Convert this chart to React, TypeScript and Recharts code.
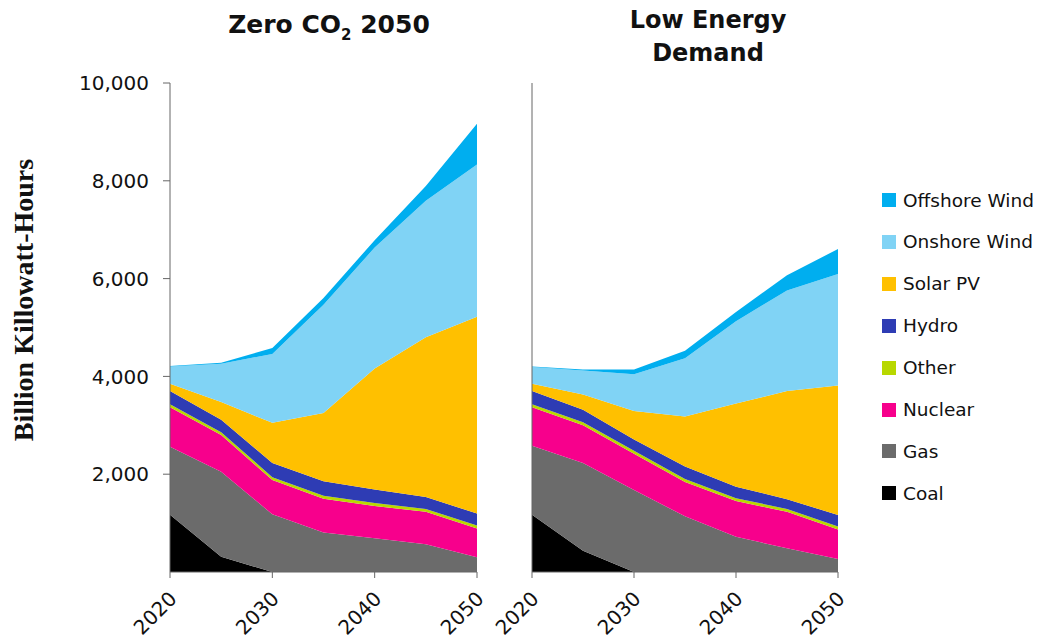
import React from 'react';
import { AreaChart, Area, XAxis, YAxis } from 'recharts';

const years = [2020, 2025, 2030, 2035, 2040, 2045, 2050];
const xTicks = [2020, 2030, 2040, 2050];
const yTicks = [2000, 4000, 6000, 8000, 10000];

// Zero CO2 2050 scenario (billion kWh)
const zeroCoal = [1170, 310, 0, 0, 0, 0, 0];
const zeroGas = [1390, 1740, 1180, 810, 690, 570, 300];
const zeroNuclear = [810, 750, 700, 690, 660, 660, 590];
const zeroOther = [60, 60, 60, 60, 60, 60, 60];
const zeroHydro = [270, 255, 290, 295, 275, 245, 245];
const zeroSolar = [150, 360, 820, 1395, 2475, 3265, 4025];
const zeroOnshore = [355, 785, 1410, 2215, 2475, 2790, 3115];
const zeroOffshore = [10, 20, 120, 140, 150, 305, 830];

// Low Energy Demand scenario (billion kWh)
const lowCoal = [1170, 435, 0, 0, 0, 0, 0];
const lowGas = [1410, 1795, 1675, 1140, 720, 485, 265];
const lowNuclear = [790, 770, 745, 700, 730, 745, 605];
const lowOther = [60, 60, 60, 60, 60, 60, 60];
const lowHydro = [270, 260, 230, 260, 235, 200, 235];
const lowSolar = [150, 310, 585, 1020, 1700, 2210, 2650];
const lowOnshore = [340, 490, 750, 1190, 1685, 2055, 2280];
const lowOffshore = [10, 20, 95, 155, 185, 315, 510];

const seriesKeys = ['coal', 'gas', 'nuclear', 'other', 'hydro', 'solar', 'onshore', 'offshore'];
const seriesNames = ['Coal', 'Gas', 'Nuclear', 'Other', 'Hydro', 'Solar PV', 'Onshore Wind', 'Offshore Wind'];
const seriesColors = ['#000000', '#6b6b6b', '#f7008c', '#b8d800', '#2e3cb4', '#ffc000', '#80d3f5', '#00aeef'];

const build = (arrs: number[][]) =>
  years.map((y, i) => {
    const row: any = { year: y };
    seriesKeys.forEach((k, j) => {
      row[k] = arrs[j][i];
    });
    return row;
  });

const zeroData = build([zeroCoal, zeroGas, zeroNuclear, zeroOther, zeroHydro, zeroSolar, zeroOnshore, zeroOffshore]);
const lowData = build([lowCoal, lowGas, lowNuclear, lowOther, lowHydro, lowSolar, lowOnshore, lowOffshore]);

const FONT = '"DejaVu Sans", sans-serif';
const AXIS = '#666666';

const XTick = (props: any) => {
  const { x, y, payload } = props;
  return (
    <g transform={`translate(${x},${y})`}>
      <text
        x={8}
        y={20}
        textAnchor="end"
        transform="rotate(-45 8 20)"
        fontFamily={FONT}
        fontSize={20}
        fill="#111"
      >
        {payload.value}
      </text>
    </g>
  );
};

const Panel = ({ data, showLabels, width, yWidth, marginRight }: any) => (
  <AreaChart
    width={width}
    height={639}
    data={data}
    margin={{ top: 83, right: marginRight, bottom: 7, left: 0 }}
  >
    <XAxis
      dataKey="year"
      type="number"
      domain={[2020, 2050]}
      ticks={xTicks}
      tickSize={6}
      height={60}
      stroke={AXIS}
      tick={<XTick />}
      interval={0}
    />
    <YAxis
      type="number"
      domain={[0, 10000]}
      ticks={yTicks}
      width={yWidth}
      tickSize={7}
      tickMargin={14}
      stroke={AXIS}
      interval={0}
      tick={showLabels ? { fontFamily: FONT, fontSize: 20, fill: '#111' } : false}
      tickFormatter={(v: number) => v.toLocaleString('en-US')}
    />
    {seriesKeys.map((k, i) => (
      <Area
        key={k}
        type="linear"
        dataKey={k}
        name={seriesNames[i]}
        stackId="a"
        stroke="none"
        fill={seriesColors[i]}
        fillOpacity={1}
        dot={false}
        activeDot={false}
        isAnimationActive={false}
      />
    ))}
  </AreaChart>
);

export default function App() {
  const legendOrder = [7, 6, 5, 4, 3, 2, 1, 0];
  return (
    <div style={{ position: 'absolute', left: 0, top: 0, width: 1038, height: 639, background: '#fff', fontFamily: FONT }}>
      <div style={{ position: 'absolute', left: 0, top: 0 }}>
        <Panel data={zeroData} showLabels={true} width={490} yWidth={170} marginRight={13} />
      </div>
      <div style={{ position: 'absolute', left: 490, top: 0 }}>
        <Panel data={lowData} showLabels={false} width={370} yWidth={42} marginRight={22} />
      </div>

      <svg style={{ position: 'absolute', left: 0, top: 0 }} width={60} height={639}>
        <text
          x={23}
          y={300}
          transform="rotate(-90 23 300)"
          textAnchor="middle"
          dominantBaseline="central"
          fontFamily='"Liberation Serif", "DejaVu Serif", serif'
          fontWeight="bold"
          fontSize={28}
          fill="#111"
        >
          Billion Killowatt-Hours
        </text>
      </svg>

      <div
        style={{
          position: 'absolute',
          left: 179,
          width: 300,
          top: 9,
          textAlign: 'center',
          fontWeight: 'bold',
          fontSize: 25,
          lineHeight: '32px',
          color: '#111',
        }}
      >
        Zero CO<span style={{ fontSize: 15, position: 'relative', top: 7 }}>2</span> 2050
      </div>

      <div
        style={{
          position: 'absolute',
          left: 558,
          width: 300,
          top: 4,
          textAlign: 'center',
          fontWeight: 'bold',
          fontSize: 24,
          lineHeight: '33px',
          color: '#111',
        }}
      >
        Low Energy
        <br />
        Demand
      </div>

      {legendOrder.map((idx, r) => (
        <div
          key={seriesKeys[idx]}
          style={{ position: 'absolute', left: 882, top: 200 + r * 41.9 - 11, height: 22, display: 'flex', alignItems: 'center' }}
        >
          <div style={{ width: 14, height: 14, background: seriesColors[idx], marginRight: 7 }} />
          <span style={{ fontSize: 18.5, color: '#111', whiteSpace: 'nowrap' }}>{seriesNames[idx]}</span>
        </div>
      ))}
    </div>
  );
}
